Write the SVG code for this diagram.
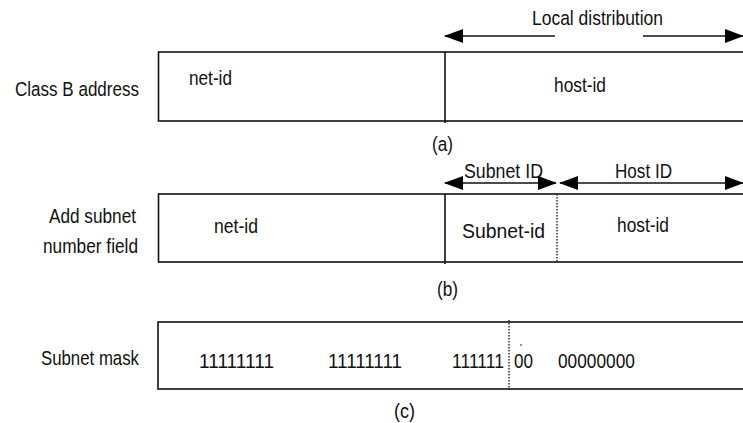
<svg xmlns="http://www.w3.org/2000/svg" width="743" height="423" viewBox="0 0 743 423">
<style>
text{font-family:"Liberation Sans Narrow","Liberation Sans",Arial,sans-serif;font-size:20.5px;fill:#111}
.box{fill:#fff;stroke:#111;stroke-width:1.6}
.div{stroke:#111;stroke-width:1.6}
.dot{stroke:#111;stroke-width:1.3;stroke-dasharray:1.5 1.5}
.arr{stroke:#111;stroke-width:1.6;fill:none}
</style>
<defs>
<marker id="ah" markerUnits="userSpaceOnUse" viewBox="0 0 19 14" markerWidth="19" markerHeight="14" refX="18" refY="7" orient="auto-start-reverse">
<path d="M0,0 L19,7 L0,14 z" fill="#000"/>
</marker>
</defs>
<rect width="743" height="423" fill="#fff"/>

<g id="labels">
<text x="15" y="96" textLength="124" lengthAdjust="spacingAndGlyphs">Class B address</text>
<text x="49" y="223" textLength="87" lengthAdjust="spacingAndGlyphs">Add subnet</text>
<text x="43" y="253" textLength="95" lengthAdjust="spacingAndGlyphs">number field</text>
<text x="41" y="365" textLength="98" lengthAdjust="spacingAndGlyphs">Subnet mask</text>
</g>

<g id="class-b">
<rect class="box" x="158.5" y="52" width="600" height="69"/>
<line class="div" x1="445" y1="52" x2="445" y2="123"/>
<text x="189" y="85" textLength="43" lengthAdjust="spacingAndGlyphs">net-id</text>
<text x="554" y="92" textLength="52" lengthAdjust="spacingAndGlyphs">host-id</text>
<text x="432" y="151" textLength="21" lengthAdjust="spacingAndGlyphs">(a)</text>
</g>

<g id="subnet-field">
<rect class="box" x="158.5" y="194" width="600" height="68"/>
<line class="div" x1="445" y1="194" x2="445" y2="264"/>
<line class="dot" x1="557" y1="194" x2="557" y2="262"/>
<text x="214" y="233" textLength="44" lengthAdjust="spacingAndGlyphs">net-id</text>
<text x="462" y="238" textLength="83" lengthAdjust="spacingAndGlyphs">Subnet-id</text>
<text x="617" y="232" textLength="52" lengthAdjust="spacingAndGlyphs">host-id</text>
<text x="437" y="296" textLength="21" lengthAdjust="spacingAndGlyphs">(b)</text>
</g>

<g id="subnet-mask">
<rect class="box" x="158" y="322" width="600" height="67"/>
<line class="dot" x1="509" y1="320" x2="509" y2="390"/>
<text x="199" y="368" textLength="75" lengthAdjust="spacingAndGlyphs">11111111</text>
<text x="328" y="368" textLength="74" lengthAdjust="spacingAndGlyphs">11111111</text>
<text x="452" y="368" textLength="52" lengthAdjust="spacingAndGlyphs">111111</text>
<text x="514" y="368" textLength="19" lengthAdjust="spacingAndGlyphs">00</text>
<text x="558" y="368" textLength="77" lengthAdjust="spacingAndGlyphs">00000000</text>
<circle cx="521" cy="345" r="0.8" fill="#111"/>
<text x="394" y="418" textLength="21" lengthAdjust="spacingAndGlyphs">(c)</text>
</g>

<g id="connectors">
<text x="532" y="25" textLength="131" lengthAdjust="spacingAndGlyphs">Local distribution</text>
<line class="arr" x1="555" y1="36" x2="445" y2="36" marker-end="url(#ah)"/>
<line class="arr" x1="643" y1="36" x2="743" y2="36" marker-end="url(#ah)"/>
<text x="464" y="178" textLength="79" lengthAdjust="spacingAndGlyphs">Subnet ID</text>
<line class="arr" x1="445" y1="183" x2="556" y2="183" marker-start="url(#ah)" marker-end="url(#ah)"/>
<text x="615" y="178" textLength="57" lengthAdjust="spacingAndGlyphs">Host ID</text>
<line class="arr" x1="560" y1="183" x2="743" y2="183" marker-start="url(#ah)" marker-end="url(#ah)"/>
</g>
</svg>
